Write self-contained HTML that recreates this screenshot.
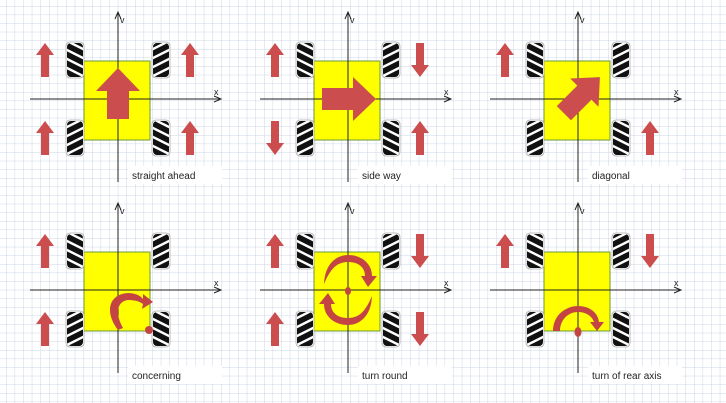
<!DOCTYPE html>
<html><head><meta charset="utf-8"><style>
html,body{margin:0;padding:0;background:#fff;}
svg{display:block;}
text{font-family:"Comic Sans MS","Liberation Sans",sans-serif;}
</style></head><body>
<svg width="726" height="403" viewBox="0 0 726 403" xmlns="http://www.w3.org/2000/svg">
<defs>
<pattern id="grid" width="8.6" height="8.6" patternUnits="userSpaceOnUse" x="6" y="6">
<path d="M0 0H8.6M0 0V8.6" stroke="#ccd5e6" stroke-width="1" fill="none"/>
</pattern>
<clipPath id="wc"><rect x="-8" y="-17" width="16" height="34" rx="4"/></clipPath>
<g id="wL">
<rect x="-9" y="-18" width="18" height="36" rx="4" fill="#fff" stroke="#aaa" stroke-width="0.8"/>
<g clip-path="url(#wc)">
<rect x="-8" y="-17" width="16" height="34" fill="#111"/>
<g stroke="#fff" stroke-width="2.4">
<line x1="-10" y1="-20" x2="10" y2="-10"/><line x1="-10" y1="-11" x2="10" y2="-1"/><line x1="-10" y1="-2" x2="10" y2="8"/><line x1="-10" y1="7" x2="10" y2="17"/><line x1="-10" y1="16" x2="10" y2="26"/>
</g></g></g>
<g id="wR">
<rect x="-9" y="-18" width="18" height="36" rx="4" fill="#fff" stroke="#aaa" stroke-width="0.8"/>
<g clip-path="url(#wc)">
<rect x="-8" y="-17" width="16" height="34" fill="#111"/>
<g stroke="#fff" stroke-width="2.4">
<line x1="-10" y1="-10" x2="10" y2="-20"/><line x1="-10" y1="-1" x2="10" y2="-11"/><line x1="-10" y1="8" x2="10" y2="-2"/><line x1="-10" y1="17" x2="10" y2="7"/><line x1="-10" y1="26" x2="10" y2="16"/>
</g></g></g>
<path id="up" d="M0 -17 L9 -5 L4 -5 L4 17 L-4 17 L-4 -5 L-9 -5 Z" fill="#cc4d4d"/>
<g id="base">
<rect x="-34" y="-38" width="66" height="79" fill="#ffff00" stroke="#6a9a3a" stroke-width="1"/>
<line x1="0" y1="-86" x2="0" y2="83" stroke="#222" stroke-width="1"/>
<path d="M-3 -80 L0 -87 L3 -80" fill="none" stroke="#222" stroke-width="1"/>
<line x1="-88" y1="0" x2="102" y2="0" stroke="#222" stroke-width="1"/>
<path d="M96 -3 L103 0 L96 3" fill="none" stroke="#222" stroke-width="1"/>
<text x="2" y="-76" font-size="9" fill="#222">v</text>
<text x="96" y="-4" font-size="9" fill="#222">x</text>
<use href="#wL" x="-43" y="-39"/>
<use href="#wR" x="-43" y="39"/>
<use href="#wR" x="43" y="-39"/>
<use href="#wL" x="43" y="39"/>
</g>
</defs>
<rect width="726" height="403" fill="url(#grid)"/>

<g transform="translate(118,99)">
<rect x="10" y="67" width="94" height="18" fill="#fff"/>
<use href="#base"/>
<use href="#up" x="-73" y="-39"/><use href="#up" x="-73" y="39"/>
<use href="#up" x="72" y="-39"/><use href="#up" x="72" y="39"/>
<path d="M0 -31 L22 -8 L11 -8 L11 20 L-11 20 L-11 -8 L-22 -8 Z" fill="#cc4d4d"/>
<text x="14" y="80" font-size="10" fill="#222">straight ahead</text>
</g>

<g transform="translate(348,99)">
<rect x="10" y="67" width="94" height="18" fill="#fff"/>
<use href="#base"/>
<use href="#up" x="-73" y="-39"/><use href="#up" x="72" y="39"/>
<use href="#up" transform="translate(-73,39) rotate(180)"/><use href="#up" transform="translate(72,-39) rotate(180)"/>
<path d="M28 0 L5 -22 L5 -11 L-26 -11 L-26 11 L5 11 L5 22 Z" fill="#cc4d4d"/>
<text x="14" y="80" font-size="10" fill="#222">side way</text>
</g>

<g transform="translate(578,99)">
<rect x="10" y="67" width="94" height="18" fill="#fff"/>
<use href="#base"/>
<use href="#up" x="-73" y="-39"/><use href="#up" x="72" y="39"/>
<g transform="rotate(45)"><path d="M0 -31 L20 -9 L10 -9 L10 20 L-10 20 L-10 -9 L-20 -9 Z" fill="#cc4d4d"/></g>
<text x="14" y="80" font-size="10" fill="#222">diagonal</text>
</g>

<g transform="translate(118,290)">
<rect x="10" y="76" width="94" height="18" fill="#fff"/>
<use href="#base"/>
<use href="#up" x="-73" y="-39"/><use href="#up" x="-73" y="39"/>
<path d="M0 40 C-14 22 -9 4 10 3 C16 3 22 5 25 9 L25 4 L35 12 L24 19 L25 14 C21 11 16 10 10 10 C0 11 -4 22 5 38 Z" fill="#c44444"/>
<circle cx="31" cy="40" r="4" fill="#c44444"/>
<text x="14" y="89" font-size="10" fill="#222">concerning</text>
</g>

<g transform="translate(348,290)">
<rect x="10" y="76" width="94" height="18" fill="#fff"/>
<use href="#base"/>
<use href="#up" x="-73" y="-39"/><use href="#up" x="-73" y="39"/>
<use href="#up" transform="translate(72,-39) rotate(180)"/><use href="#up" transform="translate(72,39) rotate(180)"/>
<path d="M-24 -6 C-23 -28 -10 -35 0 -35 C14 -35 24 -26 24 -14 L29 -14 L20 -3 L13 -14 L17 -14 C17 -23 10 -28 0 -28 C-12 -28 -18 -20 -24 -6 Z" fill="#c44444"/>
<path d="M24 6 C23 28 10 35 0 35 C-14 35 -24 26 -24 14 L-29 14 L-20 3 L-13 14 L-17 14 C-17 23 -10 28 0 28 C12 28 18 20 24 6 Z" fill="#c44444"/>
<ellipse cx="0" cy="1" rx="3" ry="4" fill="#c44444"/>
<text x="14" y="89" font-size="10" fill="#222">turn round</text>
</g>

<g transform="translate(578,290)">
<rect x="10" y="76" width="94" height="18" fill="#fff"/>
<use href="#base"/>
<use href="#up" x="-73" y="-39"/>
<use href="#up" transform="translate(72,-39) rotate(180)"/>
<path d="M-25 41 C-25 25 -12 16 0 16 C12 16 20 23 21 32 L26 32 L19 41 L12 32 L16 32 C14 26 8 22 0 22 C-10 22 -18 30 -18 41 Z" fill="#c44444"/>
<ellipse cx="0" cy="42" rx="3.5" ry="5" fill="#c44444"/>
<text x="14" y="89" font-size="10" fill="#222">turn of rear axis</text>
</g>
</svg>
</body></html>
